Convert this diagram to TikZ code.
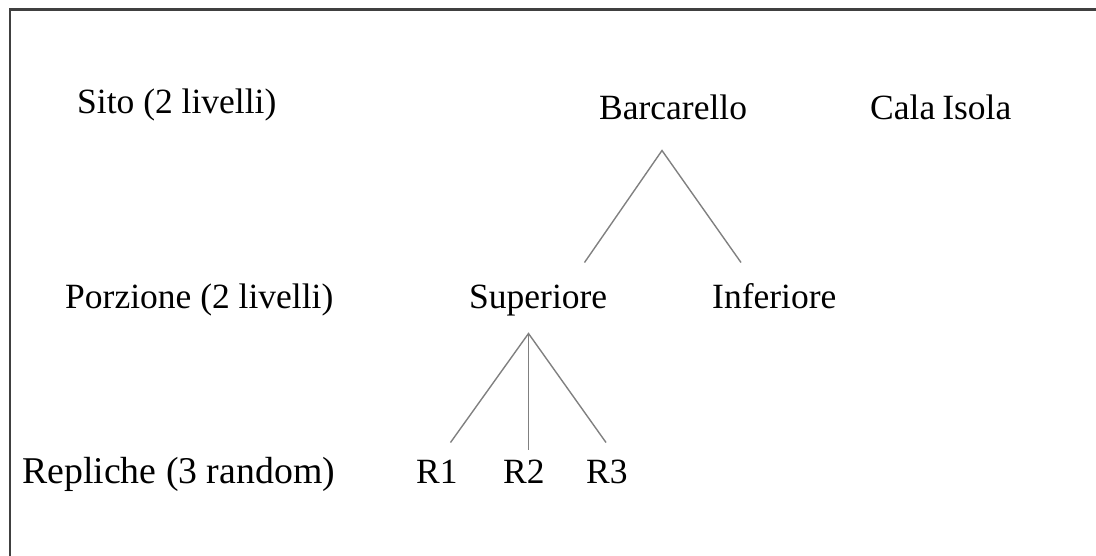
\documentclass[tikz,border=0pt]{standalone}
\usepackage{fontspec}
\setmainfont{Liberation Serif}
\begin{document}
\begin{tikzpicture}[x=1pt,y=-1pt,
  lbl/.style={anchor=base west,inner sep=0pt,font=\fontsize{35.5}{40}\selectfont},
  biglbl/.style={lbl,font=\fontsize{37.8}{42}\selectfont},
  branch/.style={draw=black!50,line width=1.4pt},
  frameline/.style={draw=black!75,line width=2.2pt}]
\useasboundingbox (0,0) rectangle (1096,555);
\clip (0,0) rectangle (1096,555);
% frame (cropped)
\coordinate (fbl) at (10,560);
\coordinate (ftl) at (10,9.5);
\coordinate (ftr) at (1100,9.5);
\draw[frameline] (fbl) -- (ftl) -- (ftr);
% labels
\node[lbl] (sito) at (77,113.5) {Sito (2 livelli)};
\node[lbl] (porz) at (65,308.5) {Porzione (2 livelli)};
\node[biglbl] (repl) at (22,483) {Repliche (3 random)};
\node[lbl] (barc) at (599,119) {Barcarello};
\node[lbl] (cala) at (870,119) {Cala\hspace{0.2em}Isola};
\node[lbl] (sup) at (469,308.5) {Superiore};
\node[lbl] (inf) at (712,308.5) {Inferiore};
\node[lbl] (r1) at (416,483) {R1};
\node[lbl] (r2) at (503,483) {R2};
\node[lbl] (r3) at (586,483) {R3};
% branch points
\coordinate (bapex) at (662,150.5);
\coordinate (bl) at (584.5,262.5);
\coordinate (br) at (741,262.5);
\coordinate (sapex) at (528.5,333.5);
\coordinate (s1) at (450.5,442.5);
\coordinate (s2) at (528.5,450);
\coordinate (s3) at (606,442.5);
\draw[branch] (bl) -- (bapex) -- (br);
\draw[branch] (s1) -- (sapex) -- (s3);
\draw[branch] (sapex) -- (s2);
\end{tikzpicture}
\end{document}
